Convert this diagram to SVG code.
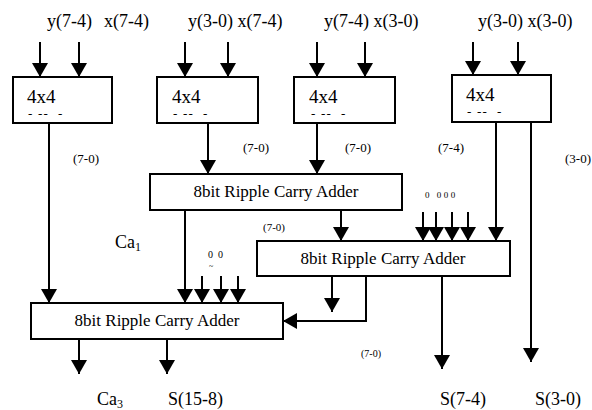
<svg xmlns="http://www.w3.org/2000/svg" width="592" height="410" viewBox="0 0 592 410">
<defs>
<marker id="ah" viewBox="0 0 14 16" markerWidth="14" markerHeight="16" refX="14" refY="8" orient="auto" markerUnits="userSpaceOnUse">
<path d="M0,0 L14,8 L0,16 z" fill="#000"/>
</marker>
<style>
text{font-family:"Liberation Serif","Times New Roman",serif;fill:#000}
.lab{font-size:18px}
.mul{font-size:19px}
.add{font-size:17px;text-anchor:middle}
.dash{font-size:13px;white-space:pre;letter-spacing:1.2px}
.bus{font-size:13px}
.sm{font-size:11px}
.z{font-size:9px;letter-spacing:2.5px}
rect{fill:#fff;stroke:#000;stroke-width:2}
#connectors path{fill:none;stroke:#000;stroke-width:2;marker-end:url(#ah)}
</style>
</defs>
<rect x="0" y="0" width="592" height="410" style="stroke:none"/>
<g id="labels">
<text class="lab" x="47" y="27">y(7-4)</text>
<text class="lab" x="104" y="27">x(7-4)</text>
<text class="lab" x="188" y="27">y(3-0) x(7-4)</text>
<text class="lab" x="324" y="27">y(7-4) x(3-0)</text>
<text class="lab" x="478" y="27">y(3-0) x(3-0)</text>
<text class="bus" x="73" y="163">(7-0)</text>
<text class="bus" x="243" y="152">(7-0)</text>
<text class="bus" x="345" y="152">(7-0)</text>
<text class="bus" x="438" y="152">(7-4)</text>
<text class="bus" x="565" y="163">(3-0)</text>
<text class="sm" x="263" y="231">(7-0)</text>
<text class="sm" x="361" y="357" style="font-size:10px">(7-0)</text>
<text class="lab" x="115" y="248">Ca<tspan style="font-size:12px" dy="3">1</tspan></text>
<text class="z" x="425" y="198">0 000</text>
<text class="z" x="208" y="258" style="font-size:10px;letter-spacing:1.2px">0 0</text>
<text x="209" y="269" style="font-size:8px">~</text>
<text class="lab" x="97" y="405">Ca<tspan style="font-size:12px" dy="3">3</tspan></text>
<text class="lab" x="168" y="405">S(15-8)</text>
<text class="lab" x="440" y="405">S(7-4)</text>
<text class="lab" x="535" y="405">S(3-0)</text>
</g>
<g id="mult1">
<rect x="13" y="77" width="99" height="46"/>
<text class="mul" x="27" y="103">4x4</text>
<text class="dash" x="28" y="118">- --  -</text>
</g>
<g id="mult2">
<rect x="157" y="77" width="101" height="46"/>
<text class="mul" x="172" y="103">4x4</text>
<text class="dash" x="173" y="118">- --  -</text>
</g>
<g id="mult3">
<rect x="294" y="77" width="101" height="46"/>
<text class="mul" x="309" y="103">4x4</text>
<text class="dash" x="311" y="118">- --  -</text>
</g>
<g id="mult4">
<rect x="452" y="75" width="99" height="47"/>
<text class="mul" x="466" y="101">4x4</text>
<text class="dash" x="467" y="116">- --  -</text>
</g>
<g id="adder1">
<rect x="150" y="174" width="252" height="36"/>
<text class="add" x="276" y="197">8bit Ripple Carry Adder</text>
</g>
<g id="adder2">
<rect x="257" y="241" width="253" height="35"/>
<text class="add" x="383" y="264">8bit Ripple Carry Adder</text>
</g>
<g id="adder3">
<rect x="31" y="303" width="252" height="36"/>
<text class="add" x="157" y="326">8bit Ripple Carry Adder</text>
</g>
<g id="connectors">
<path d="M40,42 V77"/>
<path d="M79,42 V77"/>
<path d="M185,42 V77"/>
<path d="M228,42 V77"/>
<path d="M317,42 V77"/>
<path d="M365,42 V77"/>
<path d="M473,42 V75"/>
<path d="M518,42 V75"/>
<path d="M49,123 V303"/>
<path d="M208,123 V174"/>
<path d="M317,123 V174"/>
<path d="M496,122 V241"/>
<path d="M531,122 V362"/>
<path d="M341,210 V241"/>
<path d="M185,210 V303"/>
<path d="M202,276 V303"/>
<path d="M221,276 V303"/>
<path d="M238,276 V303"/>
<path d="M423,212 V241"/>
<path d="M436,212 V241"/>
<path d="M452,212 V241"/>
<path d="M468,212 V241"/>
<path d="M332,276 V312"/>
<path d="M366,276 V321 H283"/>
<path d="M442,276 V369"/>
<path d="M79,339 V374"/>
<path d="M167,339 V374"/>
</g>
</svg>
